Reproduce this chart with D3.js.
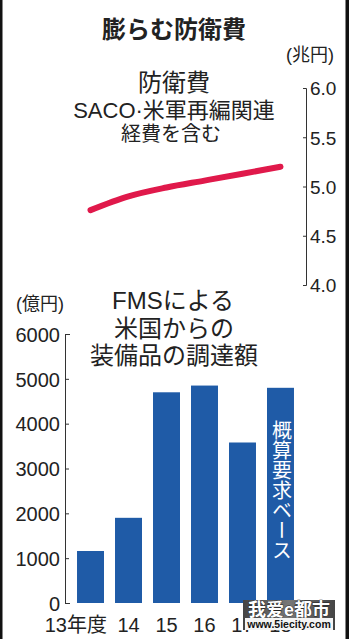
<!DOCTYPE html>
<html>
<head>
<meta charset="utf-8">
<script src="https://cdn.jsdelivr.net/npm/d3@7"></script>
<style>
  body { margin: 0; background: #fff; }
  svg { display: block; }
  text { font-family: "Liberation Sans", "Noto Sans CJK JP", sans-serif; fill: #222; }
</style>
</head>
<body>
<svg></svg>
<script>
// data
var years = ["13", "14", "15", "16", "17", "18"];
var yearLabels = ["13年度", "14", "15", "16", "17", "18"];
var budget = [4.76, 4.90, 4.99, 5.06, 5.13, 5.20];     // 兆円
var fms = [1160, 1900, 4700, 4850, 3580, 4800];       // 億円
var budgetTicks = [4.0, 4.5, 5.0, 5.5, 6.0];
var fmsTicks = [0, 1000, 2000, 3000, 4000, 5000, 6000];

var svgWidth = 349, svgHeight = 639;

var svg = d3.select("svg")
    .attr("width", svgWidth)
    .attr("height", svgHeight);

var x = d3.scaleBand()
    .domain(years)
    .range([66, 305])
    .padding(0.29);

// top: defence budget line
var yTop = d3.scaleLinear()
    .domain([4, 6])
    .range([285, 88]);

var topAxis = d3.axisRight(yTop)
    .tickValues(budgetTicks)
    .tickFormat(d3.format(".1f"))
    .tickSizeInner(-3)
    .tickSizeOuter(-3)
    .tickPadding(4);

var gTop = svg.append("g")
    .attr("transform", "translate(306,0)")
    .call(topAxis);
gTop.selectAll("path, line").attr("stroke", "#333").attr("stroke-width", 1);
gTop.selectAll("text").attr("font-size", 19).attr("fill", "#222").attr("dy", "0.36em");

var line = d3.line()
    .x(function(d, i) { return x(years[i]) + x.bandwidth() / 2; })
    .y(function(d) { return yTop(d); })
    .curve(d3.curveMonotoneX);

svg.append("path")
    .datum(budget)
    .attr("d", line)
    .attr("fill", "none")
    .attr("stroke", "#e0194b")
    .attr("stroke-width", 6)
    .attr("stroke-linecap", "round");

// bottom: FMS bars
var yBot = d3.scaleLinear()
    .domain([0, 6000])
    .range([603, 334]);

var botAxis = d3.axisLeft(yBot)
    .tickValues(fmsTicks)
    .tickFormat(d3.format("d"))
    .tickSizeInner(-4)
    .tickSizeOuter(-5)
    .tickPadding(5);

var gBot = svg.append("g")
    .attr("transform", "translate(65,0)")
    .call(botAxis);
gBot.selectAll("path, line").attr("stroke", "#333").attr("stroke-width", 1);
gBot.selectAll("text").attr("font-size", 20).attr("fill", "#222").attr("dy", "0.36em");

svg.selectAll("rect.bar")
    .data(fms)
    .enter()
    .append("rect")
    .attr("class", "bar")
    .attr("x", function(d, i) { return x(years[i]); })
    .attr("y", function(d) { return yBot(d); })
    .attr("width", x.bandwidth())
    .attr("height", function(d) { return yBot(0) - yBot(d); })
    .attr("fill", "#1f5ba7");

// year labels (17, 18 sit under the site watermark like in the source)
svg.selectAll("text.year")
    .data(yearLabels)
    .enter()
    .append("text")
    .attr("class", "year")
    .attr("x", function(d, i) {
        return i == 0 ? x(years[i]) + x.bandwidth() + 3 : x(years[i]) + x.bandwidth() / 2;
    })
    .attr("y", 632)
    .attr("text-anchor", function(d, i) { return i == 0 ? "end" : "middle"; })
    .attr("font-size", 20)
    .text(function(d) { return d; });

// vertical note in the last bar
svg.append("text")
    .attr("x", x("18") + x.bandwidth() / 2)
    .attr("y", 420)
    .attr("writing-mode", "vertical-rl")
    .attr("font-size", 20)
    .style("fill", "#fff")
    .text("概算要求ベース");

// titles
function label(txt, tx, ty, size, anchor, weight) {
    return svg.append("text")
        .attr("x", tx).attr("y", ty)
        .attr("font-size", size)
        .attr("text-anchor", anchor || "middle")
        .attr("font-weight", weight || "normal")
        .text(txt);
}
label("膨らむ防衛費", 174, 38, 24, "middle", "bold");
label("(兆円)", 310, 61, 18);
label("防衛費", 174, 91, 24);
label("SACO·米軍再編関連", 174, 118, 22);
label("経費を含む", 171, 141, 20);
label("(億円)", 40, 310, 18);
label("FMSによる", 173, 309, 24);
label("米国からの", 174, 337, 24);
label("装備品の調達額", 174, 364, 24);

// watermark
var wm = svg.append("g");
var grad = svg.append("defs").append("linearGradient").attr("id", "wmg");
grad.append("stop").attr("offset", "0%").attr("stop-color", "#444");
grad.append("stop").attr("offset", "50%").attr("stop-color", "#777");
grad.append("stop").attr("offset", "100%").attr("stop-color", "#444");
wm.append("rect").attr("x", 243).attr("y", 600).attr("width", 92).attr("height", 30).attr("fill", "url(#wmg)");
wm.append("text").attr("x", 289).attr("y", 616).attr("text-anchor", "middle")
    .attr("font-size", 18).attr("font-weight", "bold")
    .attr("font-family", "Noto Sans CJK SC")
    .style("fill", "#fff").attr("stroke", "#222").attr("stroke-width", 0.8).attr("paint-order", "stroke")
    .text("我爱e都市");
wm.append("rect").attr("x", 245).attr("y", 618).attr("width", 88).attr("height", 12).attr("fill", "#f4f4f4");
wm.append("text").attr("x", 289).attr("y", 628).attr("text-anchor", "middle")
    .attr("font-size", 10.5).attr("font-weight", "bold")
    .style("fill", "#111")
    .text("www.5iecity.com");

// frame edges
svg.append("rect").attr("x", 0).attr("y", 0).attr("width", 2.5).attr("height", svgHeight).attr("fill", "#111");
svg.append("rect").attr("x", 345.5).attr("y", 0).attr("width", 3.5).attr("height", svgHeight).attr("fill", "#111");
</script>
</body>
</html>
